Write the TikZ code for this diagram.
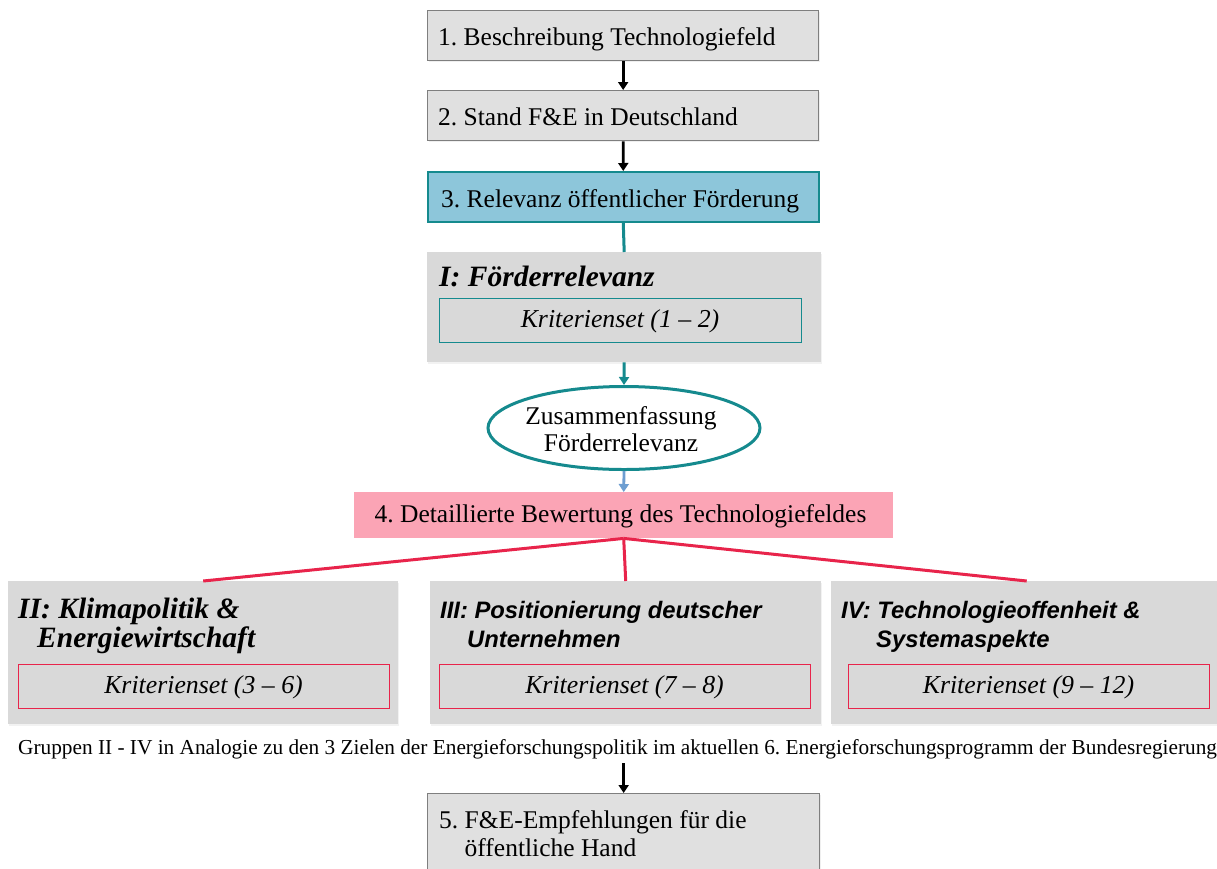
\documentclass[tikz,border=0pt]{standalone}
\usepackage{fontspec}
\setmainfont{Liberation Serif}
\newfontfamily\arialf{Liberation Sans}
\usetikzlibrary{arrows.meta,shapes.geometric,shadows}
\frenchspacing
\definecolor{boxgray}{HTML}{E0E0E0}
\definecolor{boxline}{HTML}{7F7F7F}
\definecolor{grpgray}{HTML}{D9D9D9}
\definecolor{lblue}{HTML}{8DC6DA}
\definecolor{teal2}{HTML}{158A8E}
\definecolor{pink2}{HTML}{FBA4B5}
\definecolor{red2}{HTML}{E8244B}
\definecolor{arrblue}{HTML}{6D9ED1}
\tikzset{
  x=1pt,y=-1pt,
  stepbox/.style={draw=boxline, line width=1.3pt, fill=boxgray, anchor=north west, inner sep=0pt,
    drop shadow={opacity=0.12, shadow xshift=1pt, shadow yshift=-1.5pt}},
  grpbox/.style={fill=grpgray, anchor=north west, inner sep=0pt,
    drop shadow={opacity=0.10, shadow xshift=1pt, shadow yshift=-1.5pt}},
  critbox/.style={fill=grpgray, line width=1.3pt, anchor=north west, inner sep=0pt},
  maintxt/.style={anchor=base west, inner sep=0pt, font=\fontsize{25.5}{28}\selectfont},
  crittxt/.style={anchor=base, inner sep=0pt, font=\fontsize{25.8}{28}\selectfont\itshape},
  geotitle/.style={anchor=base west, inner sep=0pt, font=\fontsize{29.5}{30}\selectfont\bfseries\itshape},
  ariatitle/.style={anchor=base west, inner sep=0pt, font=\fontsize{23.8}{26}\selectfont\arialf\bfseries\itshape},
  blackarrow/.style={line width=2.8pt, -{Triangle[width=10pt,length=8pt]}},
  tealline/.style={draw=teal2, line width=3pt},
  redline/.style={draw=red2, line width=3pt},
}
\begin{document}
\begin{tikzpicture}
\useasboundingbox (0,0) rectangle (1217,868);
\clip (0,0) rectangle (1217,868);
\fill[white] (0,0) rectangle (1217,868);

% step boxes 1 and 2
\node[stepbox, minimum width=391pt, minimum height=50pt] (b1) at (427,10) {};
\node[maintxt] (t1) at (438,45) {1. Beschreibung Technologiefeld};
\node[stepbox, minimum width=391pt, minimum height=50pt] (b2) at (427,90) {};
\node[maintxt] (t2) at (438,125) {2. Stand F\&E in Deutschland};
% box 3
\node[draw=teal2, line width=1.5pt, fill=lblue, anchor=north west, inner sep=0pt,
  minimum width=391pt, minimum height=50pt] (b3) at (427,171) {};
\node[maintxt] (t3) at (441,207) {3. Relevanz öffentlicher Förderung};

\draw[blackarrow] (b1.south) -- (b2.north);
\draw[blackarrow] (b2.south) -- (b3.north);

% group I
\node[grpbox, minimum width=394pt, minimum height=110pt] (g1) at (427,252) {};
\node[geotitle] (g1t) at (439,286) {I: Förderrelevanz};
\node[critbox, draw=teal2, minimum width=362pt, minimum height=44pt] (k1) at (439,298) {};
\node[crittxt] (k1t) at (620,327) {Kriterienset (1 – 2)};
\draw[tealline] (b3.south) -- (g1.north);

% ellipse
\node[ellipse, draw=teal2, line width=3pt, fill=white, minimum width=272pt, minimum height=83pt, inner sep=0pt] (ell) at (624,428) {};
\node[anchor=base, inner sep=0pt, font=\fontsize{25.5}{27}\selectfont] (e1) at (621,424) {Zusammenfassung};
\node[anchor=base, inner sep=0pt, font=\fontsize{25.5}{27}\selectfont] (e2) at (621,451) {Förderrelevanz};
\draw[draw=teal2, line width=3pt, -{Triangle[width=10pt,length=8pt]}] (g1.south) -- (ell.north);

% box 4
\node[fill=pink2, anchor=north west, inner sep=0pt, minimum width=539pt, minimum height=46pt] (b4) at (354,492) {};
\node[anchor=base, inner sep=0pt, font=\fontsize{25.5}{28}\selectfont] (t4) at (620.5,522) {4. Detaillierte Bewertung des Technologiefeldes};
\draw[draw=arrblue, line width=2.8pt, -{Triangle[width=10pt,length=8pt]}] (ell.south) -- (b4.north);

% groups II-IV
\node[grpbox, minimum width=390pt, minimum height=143pt] (g2) at (8,581) {};
\node[grpbox, minimum width=391pt, minimum height=143pt] (g3) at (430,581) {};
\node[grpbox, minimum width=391pt, minimum height=143pt] (g4) at (831,581) {};

\draw[redline] (b4.south) -- (g2.north);
\draw[redline] (b4.south) -- (g3.north);
\draw[redline] (b4.south) -- (g4.north);

\node[geotitle] (g2a) at (18,618) {II: Klimapolitik \&};
\node[geotitle] (g2b) at (37,647) {Energiewirtschaft};
\node[ariatitle] (g3a) at (440,618) {III: Positionierung deutscher};
\node[ariatitle] (g3b) at (467,647) {Unternehmen};
\node[ariatitle] (g4a) at (841,618) {IV: Technologieoffenheit \&};
\node[ariatitle] (g4b) at (876,647) {Systemaspekte};

\node[critbox, draw=red2, minimum width=371pt, minimum height=44pt] (k2) at (18,664) {};
\node[crittxt] (k2t) at (203.5,693) {Kriterienset (3 – 6)};
\node[critbox, draw=red2, minimum width=371pt, minimum height=44pt] (k3) at (439,664) {};
\node[crittxt] (k3t) at (624.5,693) {Kriterienset (7 – 8)};
\node[critbox, draw=red2, minimum width=361pt, minimum height=44pt] (k4) at (848,664) {};
\node[crittxt] (k4t) at (1028.5,693) {Kriterienset (9 – 12)};

% caption
\node[anchor=base west, inner sep=0pt, font=\fontsize{21.3}{24}\selectfont] (cap) at (18,754) {Gruppen II - IV in Analogie zu den 3 Zielen der Energieforschungspolitik im aktuellen 6. Energieforschungsprogramm der Bundesregierung};

% box 5
\node[stepbox, minimum width=392pt, minimum height=95pt] (b5) at (427,793) {};
\coordinate (capbot) at ([yshift=30pt]b5.north);
\node[anchor=north west, inner sep=0pt, align=left, font=\fontsize{25.5}{28}\selectfont] (t5) at (439,810) {5. F\&E-Empfehlungen für die\\\hphantom{5. }öffentliche Hand};
\draw[blackarrow] (capbot) -- (b5.north);
\end{tikzpicture}
\end{document}
